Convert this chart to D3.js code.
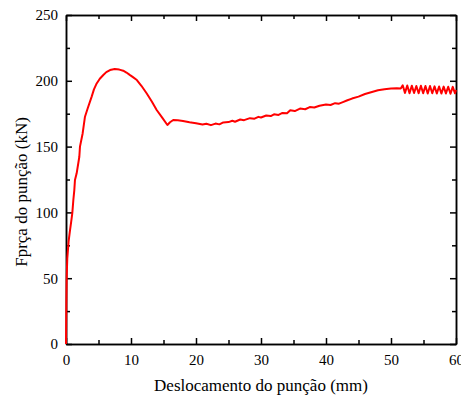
<!DOCTYPE html>
<html>
<head>
<meta charset="utf-8">
<script src="https://cdn.jsdelivr.net/npm/d3@7"></script>
<style>
body { margin: 0; background: #fff; }
svg text { font-family: "Liberation Serif", "Times New Roman", serif; fill: #000; }
</style>
</head>
<body>
<div id="chart"></div>
<script>
// punch displacement (mm) vs punch force (kN)
var displacement = [0, 0.05, 0.1, 0.15, 0.2, 0.4, 0.62, 0.8, 0.97, 1.13, 1.28, 1.38, 1.64, 2.05, 2.15, 2.56, 2.92, 3.33, 3.95, 4.3, 4.72,
  5.2, 5.74, 6.2, 6.77, 7.5, 8.2, 8.8, 9.3, 9.8, 10.3, 10.9, 11.6, 12.4, 13.2, 13.95, 14.8, 15.6, 16.0, 16.5, 17.2, 18.0, 19.0, 20.0, 21.0, 21.6, 22.3, 23.0,
  23.6, 24.2, 25.0, 25.6, 26.0, 26.8, 27.4, 28.3, 29.0, 29.6, 30.0, 30.8, 31.5, 32.0, 32.7, 33.3, 34.0, 34.5, 35.2, 36.0,
  36.8, 37.5, 38.2, 39.0, 40.0, 40.7, 41.4, 42.0, 42.6, 43.2, 44.0, 45.0, 46.0, 47.2, 48.0, 49.0, 50.0, 50.9, 51.5,
  51.8, 52.15, 52.5, 52.85, 53.2, 53.55, 53.9, 54.25, 54.6, 54.95, 55.3, 55.65, 56.0, 56.35, 56.7, 57.05, 57.4, 57.75,
  58.1, 58.45, 58.8, 59.15, 59.5, 59.85, 60];
var force = [0, 30, 48.6, 58, 65.3, 78, 86.6, 93, 99.5, 109.4, 117, 124.6, 129.7, 142.3, 150, 160, 172.7, 179, 188, 193.5, 198,
  201.6, 204.4, 206.6, 208.2, 209, 208.5, 207.7, 206.3, 204.5, 202.8, 200.6, 196.2, 190.5, 184.3, 177.8, 172.0, 166.4, 168.5, 170.2, 170, 169.5, 168.5, 167.8, 166.8, 167.4, 166.3, 167.5,
  166.9, 168.4, 168.6, 169.6, 168.9, 170.6, 170.1, 171.6, 171.2, 172.6, 172.1, 173.6, 173.2, 174.5, 174.1, 175.6, 175.3, 177.6, 177.0, 178.9,
  178.4, 180.0, 179.7, 181.0, 182.0, 181.6, 183.0, 182.6, 183.8, 185.0, 186.5, 188.0, 190.0, 191.7, 192.8, 193.6, 194.2, 194.3, 194.2,
  196.6, 190.8, 196.4, 190.6, 196.3, 190.7, 196.1, 190.5, 196.2, 190.6, 196.0, 190.4, 196.0, 190.5, 195.8, 190.4, 195.7, 190.3,
  195.6, 190.4, 195.5, 190.2, 195.4, 190.5, 193.0];

var xTicks = [0, 10, 20, 30, 40, 50, 60];
var yTicks = [0, 50, 100, 150, 200, 250];
var xMinor = [5, 15, 25, 35, 45, 55];
var yMinor = [25, 75, 125, 175, 225];

var width = 461, height = 396;
var margin = {left: 66, right: 5, top: 15, bottom: 52};

var svg = d3.select("#chart").append("svg")
  .attr("width", width)
  .attr("height", height);

var x = d3.scaleLinear().domain([0, 60]).range([margin.left, width - margin.right]);
var y = d3.scaleLinear().domain([0, 250]).range([height - margin.bottom, margin.top]);

var majorLen = 6, minorLen = 4;

// bottom axis with labels
svg.append("g")
  .attr("transform", "translate(0," + y(0) + ")")
  .call(d3.axisBottom(x).tickValues(xTicks).tickSizeInner(-majorLen).tickSizeOuter(0).tickPadding(majorLen + 4))
  .call(function(g) { g.selectAll("text").style("font-size", "15px").attr("fill", "#000"); });
svg.append("g")
  .attr("transform", "translate(0," + y(0) + ")")
  .call(d3.axisBottom(x).tickValues(xMinor).tickSizeInner(-minorLen).tickSizeOuter(0).tickFormat(""));

// left axis with labels
svg.append("g")
  .attr("transform", "translate(" + x(0) + ",0)")
  .call(d3.axisLeft(y).tickValues(yTicks).tickSizeInner(-majorLen).tickSizeOuter(0).tickPadding(majorLen + 2))
  .call(function(g) { g.selectAll("text").style("font-size", "15px").attr("fill", "#000"); });
svg.append("g")
  .attr("transform", "translate(" + x(0) + ",0)")
  .call(d3.axisLeft(y).tickValues(yMinor).tickSizeInner(-minorLen).tickSizeOuter(0).tickFormat(""));

// top and right mirror axes, ticks only
svg.append("g")
  .attr("transform", "translate(0," + y(250) + ")")
  .call(d3.axisTop(x).tickValues(xTicks).tickSizeInner(-majorLen).tickSizeOuter(0).tickFormat(""));
svg.append("g")
  .attr("transform", "translate(0," + y(250) + ")")
  .call(d3.axisTop(x).tickValues(xMinor).tickSizeInner(-minorLen).tickSizeOuter(0).tickFormat(""));
svg.append("g")
  .attr("transform", "translate(" + x(60) + ",0)")
  .call(d3.axisRight(y).tickValues(yTicks).tickSizeInner(-majorLen).tickSizeOuter(0).tickFormat(""));
svg.append("g")
  .attr("transform", "translate(" + x(60) + ",0)")
  .call(d3.axisRight(y).tickValues(yMinor).tickSizeInner(-minorLen).tickSizeOuter(0).tickFormat(""));

svg.selectAll(".domain, .tick line").attr("stroke", "#000").attr("stroke-width", 1.5);

// curve
var line = d3.line()
  .x(function(d, i) { return x(displacement[i]); })
  .y(function(d) { return y(d); });

svg.append("path")
  .attr("d", line(force))
  .attr("fill", "none")
  .attr("stroke", "#ff0000")
  .attr("stroke-width", 2)
  .attr("stroke-linejoin", "round");

// axis titles
svg.append("text")
  .attr("x", 261)
  .attr("y", 391)
  .attr("text-anchor", "middle")
  .style("font-size", "17px")
  .text("Deslocamento do punção (mm)");

svg.append("text")
  .attr("transform", "translate(27,192) rotate(-90)")
  .attr("text-anchor", "middle")
  .style("font-size", "17px")
  .text("Fprça do punção (kN)");
</script>
</body>
</html>
